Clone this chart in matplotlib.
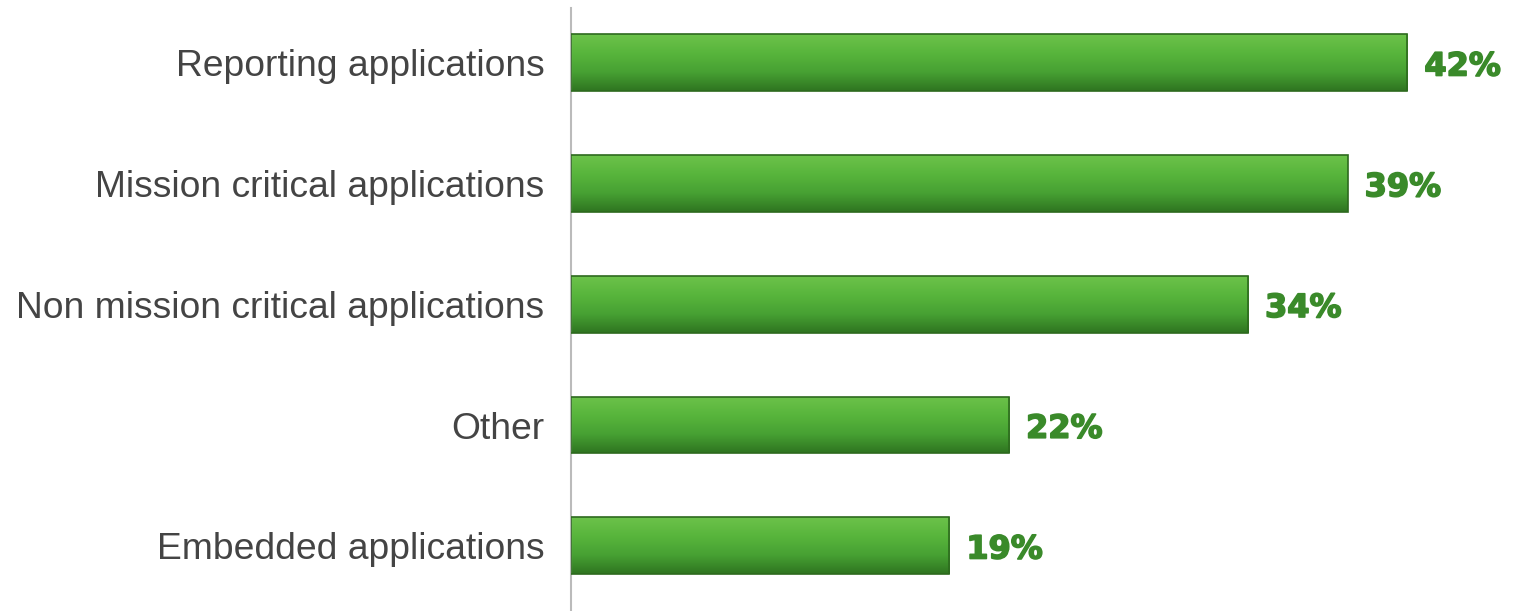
import matplotlib
matplotlib.use("Agg")
import matplotlib.pyplot as plt
import matplotlib.patheffects as pe
import numpy as np
from matplotlib.colors import LinearSegmentedColormap

categories = ["Reporting applications", "Mission critical applications",
              "Non mission critical applications", "Other", "Embedded applications"]
values = [42, 39, 34, 22, 19]
value_labels = ["42%", "39%", "34%", "22%", "19%"]

plt.rcParams['font.family'] = ['Liberation Sans', 'DejaVu Sans']

fig = plt.figure(figsize=(15.17, 6.11), dpi=100)
ax = fig.add_axes([571/1517, 0.0, 1 - 571/1517, 1.0])

y = np.arange(len(categories))
h = 0.47
cmap = LinearSegmentedColormap.from_list("g", ["#6cc24a", "#58b53c", "#47a133", "#2f7520"])
grad = np.linspace(0, 1, 100).reshape(-1, 1)

bars = ax.barh(y, values, height=h, color="none", edgecolor="#2d6a1e", linewidth=1.2, zorder=3)
for b in bars:
    x0, y0, w, hh = b.get_x(), b.get_y(), b.get_width(), b.get_height()
    im = ax.imshow(grad, cmap=cmap, aspect="auto", extent=[x0, x0 + w, y0 + hh, y0],
                   zorder=2, interpolation="bicubic")
    im.set_clip_path(b)

for yi, v, lab in zip(y, values, value_labels):
    ax.text(v + 0.85, yi + 0.035, lab, va="center", ha="left", fontsize=23, fontweight="bold",
            color="#3a8a2a", family=["DejaVu Sans"],
            path_effects=[pe.withStroke(linewidth=1.2, foreground="#3a8a2a")])

ax.set_xlim(0, 47.5)
ax.set_ylim(4.54, -0.52)
ax.set_yticks(y)
ax.set_yticklabels(categories, fontsize=26.8, color="#444444")
ax.tick_params(axis="y", length=0, pad=19)
ax.set_xticks([])
for s in ["top", "right", "bottom"]:
    ax.spines[s].set_visible(False)
ax.spines["left"].set_color("#bbbbbb")
ax.spines["left"].set_linewidth(1.5)
ax.spines["left"].set_bounds(4.54, -0.45)

fig.savefig("out.png", dpi=100, facecolor="white")
